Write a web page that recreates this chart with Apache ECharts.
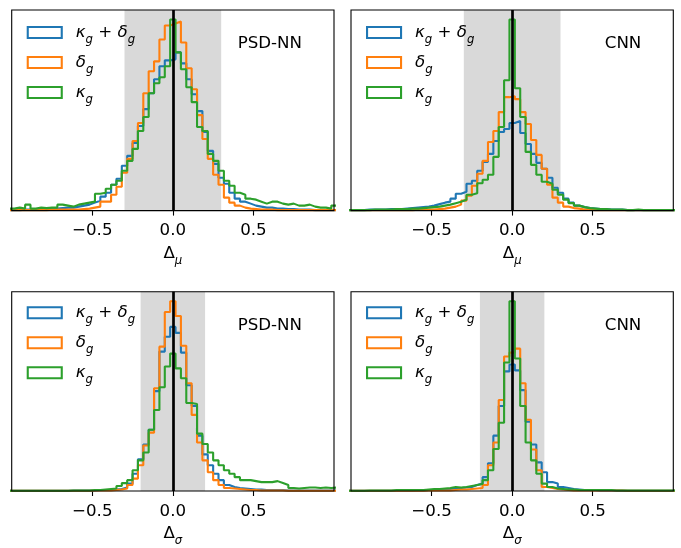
<!DOCTYPE html>
<html>
<head>
<meta charset="utf-8">
<script src="https://cdn.jsdelivr.net/npm/echarts@6.0.0/dist/echarts.min.js"></script>
<style>
html,body{margin:0;padding:0;background:#fff;}
#chart{width:681px;height:548px;}
</style>
</head>
<body>
<div id="chart"></div>
<script>
// 61 histogram bins of width 1/30, centred on -1.0 ... +1.0
const binWidth = 1 / 30;
const firstBinCenter = -1;

const tickValues = [-0.5, 0, 0.5];
const seriesNames = ['κg + δg', 'δg', 'κg'];
const colors = ['#1f77b4', '#ff7f0e', '#2ca02c'];

// ---- PSD-NN, Delta_mu ----
const psdMuBoth = [
  0.5, 0.5, 1, 1, 1, 1.5, 1.5, 2, 2, 2.5,
  3, 3, 4, 5, 6, 8, 10, 14, 18, 26,
  32, 45, 55, 68, 85, 102, 118, 132, 145, 151,
  152,
  159, 148, 132, 117, 100, 79, 60, 47, 33, 27,
  18, 12, 9, 7, 5, 4, 3, 3, 2, 2,
  1.5, 1.5, 1, 1, 1, 0.5, 0.5, 0.5, 0.5, 0.5
];
const psdMuDelta = [
  0.5, 0.5, 0.5, 0.5, 0.5, 0.5, 0.5, 1, 1, 1,
  1, 1, 1, 1.5, 2, 3, 4, 9, 9, 16,
  24, 38, 52, 70, 88, 118, 140, 150, 172, 186,
  188,
  190, 169, 143, 122, 96, 72, 52, 36, 26, 13,
  8, 5, 3, 2, 1.5, 1, 1, 1, 0.5, 0.5,
  0.5, 0.5, 0.5, 0.5, 0.5, 0.5, 0.5, 0.5, 0.5, 0.5
];
const psdMuKappa = [
  2, 3, 2, 6, 2, 3, 2.5, 3, 3, 6,
  5, 4, 6, 7, 8, 9, 17, 18, 22, 26,
  30, 40, 50, 62, 80, 94, 118, 128, 134, 145,
  192,
  159, 142, 124, 109, 84, 80, 57, 50, 40, 30,
  25, 18, 16, 12, 11, 9, 7, 9, 9, 7,
  6, 7, 5, 5, 6, 4, 3, 3, 2, 5
];

// ---- CNN, Delta_mu ----
const cnnMuBoth = [
  0.5, 0.5, 0.5, 1, 1, 1, 1, 1.5, 1.5, 1.5,
  2, 2.5, 3, 3.5, 4, 5, 6.5, 8, 9, 12,
  17, 19, 27, 30, 40, 49, 57, 70, 79, 82,
  88,
  90, 78, 67, 57, 48, 42, 33, 23, 18, 12,
  8, 5, 3.5, 2.5, 2, 1.5, 1.5, 1, 1, 1,
  0.5, 0.5, 0.5, 0.5, 0.5, 0.5, 0.5, 0.5, 0.5, 0.5
];
const cnnMuDelta = [
  0.5, 0.5, 0.5, 0.5, 0.5, 0.5, 0.5, 0.5, 0.5, 0.5,
  0.5, 0.5, 1, 1, 1, 1, 1.5, 2, 3, 4,
  6, 10, 15, 25, 37, 50, 69, 80, 99, 114,
  115,
  112, 99, 87, 71, 56, 42, 26, 13, 8, 4,
  2.5, 2, 1, 1, 0.5, 0.5, 0.5, 0.5, 0.5, 0.5,
  0.5, 0.5, 0.5, 0.5, 0.5, 0.5, 0.5, 0.5, 0.5, 0.5
];
const cnnMuKappa = [
  0.5, 0.5, 0.5, 0.5, 1, 1, 1, 1, 1.5, 1.5,
  1.5, 2, 2, 2.5, 3, 3.5, 4, 5, 6, 7.5,
  9, 11, 16, 17.5, 27.5, 31, 36, 54, 84, 131,
  192,
  123, 94, 59, 46, 36, 29, 27, 21, 16, 11,
  7.5, 5, 3.5, 2.5, 2, 1.5, 1.5, 1, 1, 1,
  0.5, 0.5, 1, 0.5, 0.5, 0.5, 0.5, 0.5, 0.5, 0.5
];

// ---- PSD-NN, Delta_sigma ----
const psdSigmaBoth = [
  0.3, 0.3, 0.3, 0.3, 0.3, 0.3, 0.3, 0.3, 0.3, 0.3,
  0.3, 0.5, 0.5, 0.5, 0.5, 0.5, 1, 1, 1, 1.5,
  2, 3.5, 7.5, 17.5, 32, 47, 62, 101, 141, 156,
  166,
  160, 140, 107, 86, 56, 37, 26, 17.5, 11, 6,
  4, 3, 2.5, 2, 1.5, 1.5, 1, 1, 1, 1,
  0.5, 0.5, 0.5, 0.5, 0.5, 0.5, 0.5, 0.5, 0.5, 0.5
];
const psdSigmaDelta = [
  0.3, 0.3, 0.3, 0.3, 0.3, 0.3, 0.3, 0.3, 0.3, 0.3,
  0.3, 0.3, 0.3, 0.3, 0.3, 0.5, 0.5, 0.5, 0.5, 1,
  1.5, 2.5, 6, 12.5, 26, 46, 59, 104, 146, 181,
  192,
  177, 147, 109, 77, 49, 31, 19, 11, 6, 3,
  2.5, 2, 1.5, 1, 1, 0.5, 0.5, 0.5, 0.5, 0.5,
  0.3, 0.3, 0.3, 0.3, 0.3, 0.3, 0.3, 0.3, 0.3, 0.3
];
const psdSigmaKappa = [
  0.3, 0.3, 0.3, 0.3, 0.3, 0.3, 0.3, 0.3, 0.3, 0.3,
  0.3, 0.5, 0.5, 0.5, 0.5, 1, 1, 1.5, 2, 2.5,
  5, 8, 11, 21, 31, 39, 62, 82, 105, 126,
  139,
  124, 114, 89, 88, 58, 47.5, 39, 31, 26, 21,
  17.5, 14, 11, 11, 10, 9, 9, 9, 10, 8,
  6, 3, 2.5, 3, 3.5, 3.5, 3, 3.5, 3, 3.5
];

// ---- CNN, Delta_sigma ----
const cnnSigmaBoth = [
  0.3, 0.3, 0.3, 0.3, 0.3, 0.3, 0.3, 0.3, 0.3, 0.3,
  0.3, 0.3, 0.5, 0.5, 1, 1, 1.5, 1.5, 2, 2.5,
  3, 3.5, 4, 6, 7.5, 14, 28, 56, 86, 121,
  128,
  122, 102, 70, 47, 29, 19, 9, 7.5, 4, 3,
  2, 1.5, 1, 1, 1, 0.5, 0.5, 0.5, 0.5, 0.5,
  0.3, 0.3, 0.3, 0.3, 0.3, 0.3, 0.3, 0.3, 0.3, 0.3
];
const cnnSigmaDelta = [
  0.3, 0.3, 0.3, 0.3, 0.3, 0.3, 0.3, 0.3, 0.3, 0.3,
  0.3, 0.3, 0.3, 0.3, 0.5, 0.5, 0.5, 0.5, 0.5, 1,
  1.5, 1.5, 2, 2.5, 3, 6, 26, 49, 92, 136,
  140,
  144, 109, 72, 42, 21, 4, 3, 2, 1.5, 1,
  0.5, 0.5, 0.5, 0.5, 0.5, 0.5, 0.5, 0.5, 0.5, 0.5,
  0.3, 0.3, 0.3, 0.3, 0.3, 0.3, 0.3, 0.3, 0.3, 0.3
];
const cnnSigmaKappa = [
  0.3, 0.3, 0.3, 0.5, 0.5, 0.5, 0.5, 0.5, 1, 1,
  1, 1, 1, 1, 1.5, 2, 2, 2.5, 3, 4,
  3.5, 4, 5, 6, 7, 11, 21, 42.5, 69, 130,
  192,
  134, 86, 49, 31, 17.5, 7.5, 4, 2.5, 2, 1.5,
  1.5, 1, 1, 1, 1, 1, 1, 1, 0.5, 0.5,
  0.5, 0.5, 0.5, 0.5, 0.5, 0.5, 0.5, 0.5, 0.5, 0.5
];

const panelTags = ['PSD-NN', 'CNN', 'PSD-NN', 'CNN'];
const panelSubs = ['μ', 'μ', 'σ', 'σ'];
const panelBands = [0.3, 0.3, 0.2, 0.2];
const panelData = [
  [psdMuBoth, psdMuDelta, psdMuKappa],
  [cnnMuBoth, cnnMuDelta, cnnMuKappa],
  [psdSigmaBoth, psdSigmaDelta, psdSigmaKappa],
  [cnnSigmaBoth, cnnSigmaDelta, cnnSigmaKappa]
];

// ---------- layout ----------
const FONT = 'DejaVu Sans';
const FS = 16.67;
const gridBoxes = [
  {left: 11.7, top: 10, legTop: 14},
  {left: 351, top: 10, legTop: 14},
  {left: 11.7, top: 291.7, legTop: 12.5},
  {left: 351, top: 291.7, legTop: 12.5}
];
const GW = 322.3, GH = 200.6;

function steps(counts) {
  const pts = [];
  counts.forEach((c, i) => {
    const l = firstBinCenter + (i - 0.5) * binWidth;
    pts.push([l, c], [l + binWidth, c]);
  });
  return pts;
}

const rich = {
  m: {fontFamily: FONT, fontStyle: 'italic', fontSize: FS, lineHeight: 26, verticalAlign: 'middle', color: '#000'},
  u: {fontFamily: FONT, fontSize: FS, lineHeight: 26, verticalAlign: 'middle', color: '#000'},
  s: {fontFamily: FONT, fontStyle: 'italic', fontSize: 11.7, lineHeight: 14, verticalAlign: 'bottom', color: '#000'}
};
const legendRich = {
  'κg + δg': '{m|κ}{s|g}{u| + }{m|δ}{s|g}',
  'δg': '{m|δ}{s|g}',
  'κg': '{m|κ}{s|g}'
};
const fmt = v => (v < 0 ? '\u2212' : '') + Math.abs(v).toFixed(1);

const grid = [], xAxis = [], yAxis = [], series = [], legend = [], graphic = [];
gridBoxes.forEach((g, i) => {
  grid.push({left: g.left, top: g.top, width: GW, height: GH, show: true,
    borderColor: '#000', borderWidth: 1.1, backgroundColor: 'rgba(0,0,0,0)', z: 10});
  let ymax = 0;
  panelData[i].forEach(a => a.forEach(v => { if (v > ymax) ymax = v; }));
  xAxis.push({
    type: 'value', gridIndex: i, min: -1, max: 1,
    axisLine: {show: false}, splitLine: {show: false},
    axisTick: {show: true, customValues: tickValues, length: 5, inside: false, lineStyle: {color: '#000', width: 1.1}},
    axisLabel: {customValues: tickValues, formatter: fmt, margin: 12, fontFamily: FONT, fontSize: FS, color: '#000'},
    name: '{u|Δ}{s|' + panelSubs[i] + '}', nameLocation: 'middle', nameGap: 30,
    nameTextStyle: {rich: rich}
  });
  yAxis.push({type: 'value', gridIndex: i, min: 0, max: ymax * 1.05, show: false});
  series.push({
    type: 'line', xAxisIndex: i, yAxisIndex: i, data: [], silent: true, showSymbol: false,
    markArea: {silent: true, itemStyle: {color: '#d9d9d9'}, data: [[{xAxis: -panelBands[i]}, {xAxis: panelBands[i]}]]},
    markLine: {silent: true, symbol: 'none', label: {show: false}, animation: false,
      lineStyle: {color: '#000', width: 2.7, type: 'solid'}, emphasis: {disabled: true}, data: [{xAxis: 0}]}
  });
  panelData[i].forEach((arr, j) => {
    series.push({
      type: 'line', name: seriesNames[j], xAxisIndex: i, yAxisIndex: i,
      data: steps(arr), showSymbol: false, symbol: 'none', silent: true, clip: true,
      lineStyle: {color: colors[j], width: 2.1}, itemStyle: {color: colors[j]}, z: 2 + j
    });
  });
  legend.push({
    orient: 'vertical', left: g.left + 15, top: g.top + g.legTop, padding: 0,
    itemWidth: 34, itemHeight: 11, itemGap: 8.5, icon: 'rect', selectedMode: false,
    data: seriesNames.map((n, j) => ({name: n, itemStyle: {color: 'rgba(0,0,0,0)', borderColor: colors[j], borderWidth: 2.1}})),
    formatter: n => legendRich[n],
    textStyle: {rich: rich, padding: [0, 0, 0, 9]}
  });
  graphic.push({type: 'text', z: 100, silent: true,
    style: {text: panelTags[i], x: g.left + GW - 32, y: g.top + 34, align: 'right', verticalAlign: 'middle',
      font: FS + 'px "' + FONT + '"', fill: '#000'}});
});

const chart = echarts.init(document.getElementById('chart'), null, {renderer: 'canvas'});
chart.setOption({animation: false, backgroundColor: '#fff', grid, xAxis, yAxis, series, legend, graphic});
</script>
</body>
</html>
